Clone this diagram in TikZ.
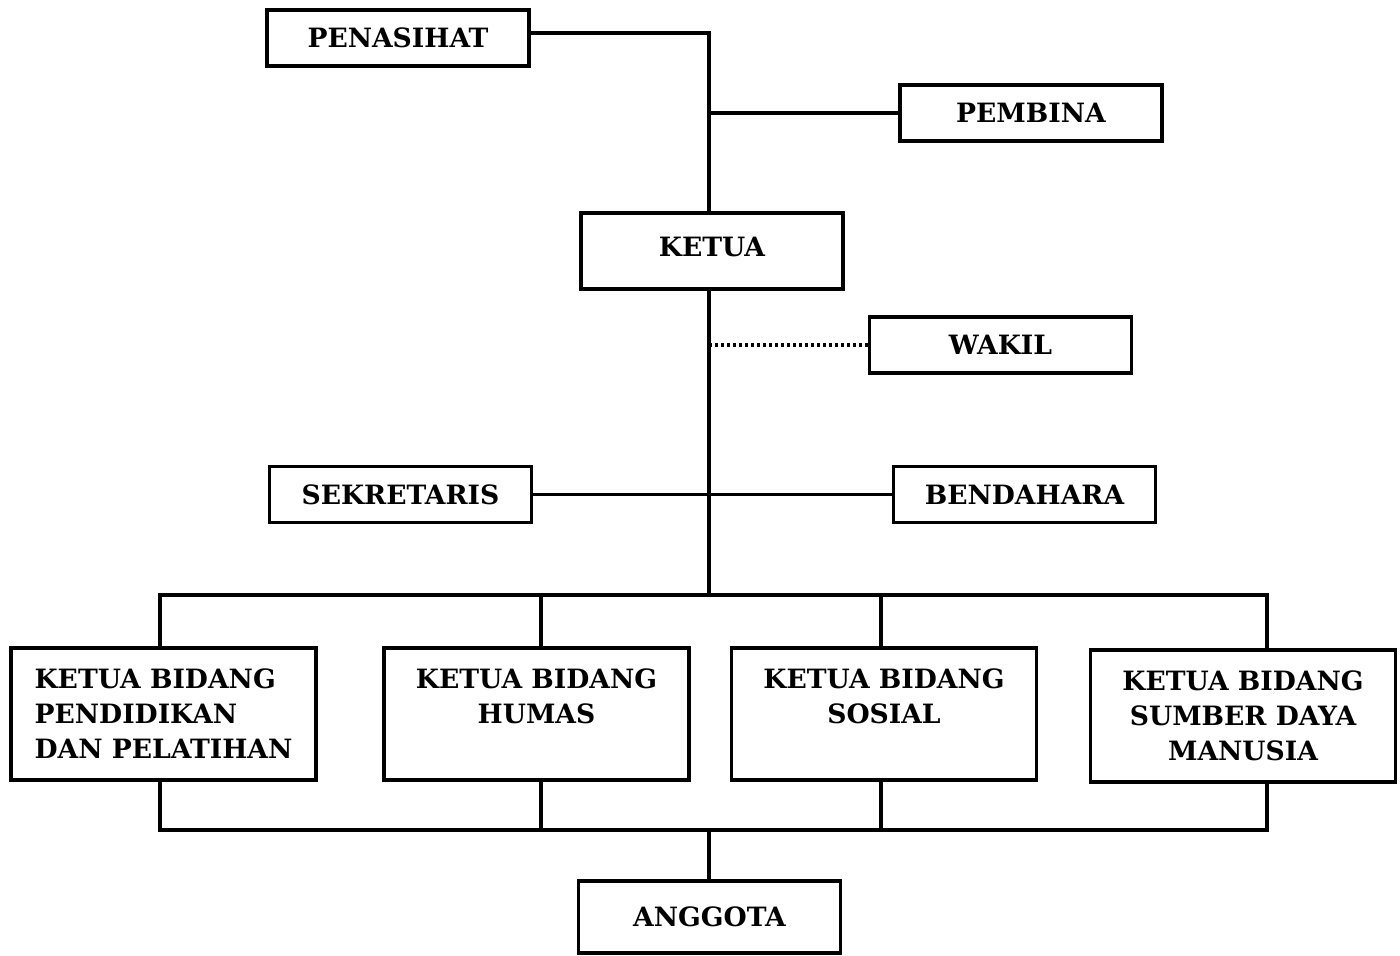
\documentclass[tikz,border=0pt]{standalone}
\usepackage{fontspec}
\setmainfont{DejaVu Serif}
\begin{document}
\begin{tikzpicture}[x=0.5pt,y=-0.5pt,
  every node/.style={font=\bfseries\fontsize{13.3}{17.5}\selectfont, inner sep=0pt},
  box/.style={draw, line width=1.6pt, minimum width=131pt, minimum height=28pt, align=center},
  bbox/.style={draw, line width=1.6pt, minimum width=152.5pt, minimum height=66pt},
  link/.style={line width=1.6pt, line cap=rect},
  dots/.style={line width=1.8pt, dash pattern=on 1.6pt off 1.4pt}]
\useasboundingbox (0,0) rectangle (1400,956);
% boxes
\node[box] (pen) at (398,38) {PENASIHAT};
\node[box] (pem) at (1031,113) {PEMBINA};
\node[box, minimum height=38pt] (ket) at (712,251) {\raisebox{4.5pt}{KETUA}};
\node[box] (wak) at (1000.5,345) {WAKIL};
\node[box] (sek) at (400.5,494.5) {SEKRETARIS};
\node[box] (ben) at (1024.5,494.5) {BENDAHARA};
\node[bbox, align=left] (b1) at (163.5,714) {KETUA BIDANG\\PENDIDIKAN\\DAN PELATIHAN};
\node[bbox, align=center] (b2) at (536.5,714) {KETUA BIDANG\\HUMAS\\\mbox{}};
\node[bbox, align=center] (b3) at (884,714) {KETUA BIDANG\\SOSIAL\\\mbox{}};
\node[bbox, align=center] (b4) at (1243,716) {KETUA BIDANG\\SUMBER DAYA\\MANUSIA};
\node[box, minimum height=36pt] (ang) at (709.5,917) {ANGGOTA};
% coordinates
\coordinate (top) at (709,33);
\coordinate (bus) at (709,595);
\coordinate (bbus) at (709,830);
\coordinate (d1) at (160,595);
\coordinate (d2) at (541,595);
\coordinate (d3) at (881,595);
\coordinate (d4) at (1267,595);
\coordinate (u1) at (160,830);
\coordinate (u2) at (541,830);
\coordinate (u3) at (881,830);
\coordinate (u4) at (1267,830);
% connectors
\draw[link] ([yshift=2.5pt]pen.east) -- (top) -- (top |- ket.north);
\draw[link] (pem.west) -- (pem.west -| top);
\draw[link] (top |- ket.south) -- (bus);
\draw[dots] (wak.west) -- (wak.west -| top);
\draw[link] (sek.east) -- (ben.west);
\draw[link] (d1) -- (d4);
\draw[link] (d1) -- (d1 |- b1.north);
\draw[link] (d2) -- (d2 |- b2.north);
\draw[link] (d3) -- (d3 |- b3.north);
\draw[link] (d4) -- (d4 |- b4.north);
\draw[link] (u1) -- (u4);
\draw[link] (u1) -- (u1 |- b1.south);
\draw[link] (u2) -- (u2 |- b2.south);
\draw[link] (u3) -- (u3 |- b3.south);
\draw[link] (u4) -- (u4 |- b4.south);
\draw[link] (bbus) -- (bbus |- ang.north);
\end{tikzpicture}
\end{document}
